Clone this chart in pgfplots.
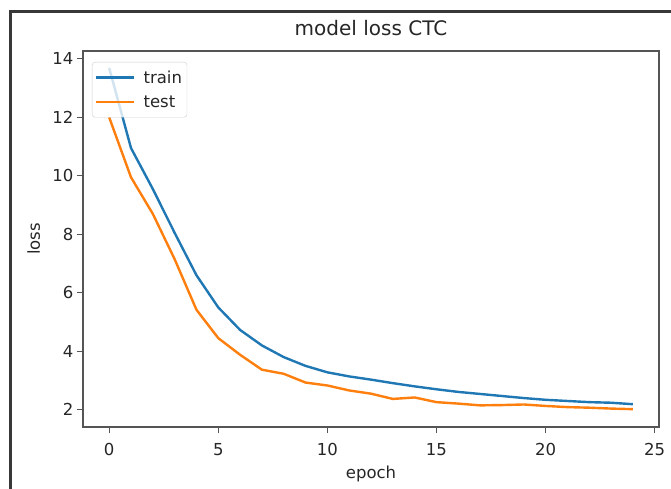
\documentclass[border=0pt]{standalone}
\usepackage{fontspec}
\setmainfont{DejaVu Sans}
\usepackage{pgfplots}
\pgfplotsset{compat=1.18}
\definecolor{mblue}{HTML}{1F77B4}
\definecolor{morange}{HTML}{FF7F0E}
\definecolor{spine}{HTML}{555555}
\definecolor{txt}{HTML}{262626}
\begin{document}
\begin{tikzpicture}[x=1pt,y=1pt]
\path[use as bounding box] (0,0) rectangle (671,489);
\draw[line width=3pt, color=black!78] (10.5,-2) -- (10.5,477) -- (673,477);
\begin{axis}[
  at={(83pt,62pt)}, anchor=south west,
  width=576pt, height=376pt, scale only axis,
  xmin=-1.2, xmax=25.2, ymin=1.41, ymax=14.27,
  xtick={0,5,...,25}, ytick={2,4,...,14},
  tick align=outside, major tick length=6pt,
  xtick pos=bottom, ytick pos=left,
  tick style={spine, line width=1.1pt},
  axis line style={spine, line width=1.1pt},
  /pgf/number format/assume math mode=true,
  ticklabel style={font=\fontsize{16.5}{19}\selectfont, text=txt},
  xticklabel style={yshift=-7pt},
  title={model loss CTC},
  title style={at={(axis description cs:0.5,1)}, anchor=base, yshift=9pt, font=\fontsize{20}{24}\selectfont, text=txt},
  xlabel={epoch},
  xlabel style={at={(axis description cs:0.5,0)}, anchor=base, yshift=-51pt, font=\fontsize{16.5}{19}\selectfont, text=txt},
  ylabel={loss},
  ylabel style={at={(axis description cs:-0.0747,0.5)}, anchor=base, font=\fontsize{16.5}{19}\selectfont, text=txt},
  legend style={at={(axis description cs:0.0156,0.971)}, anchor=north west, draw=black!20, fill=white, fill opacity=0.8, text opacity=1, rounded corners=3pt, font=\fontsize{16.5}{19}\selectfont, text=txt, row sep=7pt, column sep=6pt, inner xsep=3pt, inner ysep=6.5pt},
  legend cell align=left,
  legend image code/.code={\draw[#1] (0pt,0pt) -- (38pt,0pt);},
]
\addplot[mblue, line width=2.4pt] coordinates {
(0,13.69) (1,10.95) (2,9.55) (3,8.05) (4,6.6) (5,5.5) (6,4.73) (7,4.2) (8,3.8) (9,3.5)
(10,3.28) (11,3.14) (12,3.03) (13,2.91) (14,2.80) (15,2.70) (16,2.61) (17,2.54) (18,2.47)
(19,2.40) (20,2.34) (21,2.30) (22,2.26) (23,2.24) (24,2.19)};
\addlegendentry{train\hspace{3pt}}
\addplot[morange, line width=2.4pt] coordinates {
(0,12.0) (1,9.95) (2,8.7) (3,7.15) (4,5.42) (5,4.45) (6,3.88) (7,3.37) (8,3.23) (9,2.93)
(10,2.83) (11,2.66) (12,2.55) (13,2.37) (14,2.42) (15,2.26) (16,2.21) (17,2.15) (18,2.16)
(19,2.18) (20,2.13) (21,2.09) (22,2.07) (23,2.04) (24,2.02)};
\addlegendentry{test}
\end{axis}
\end{tikzpicture}
\end{document}
